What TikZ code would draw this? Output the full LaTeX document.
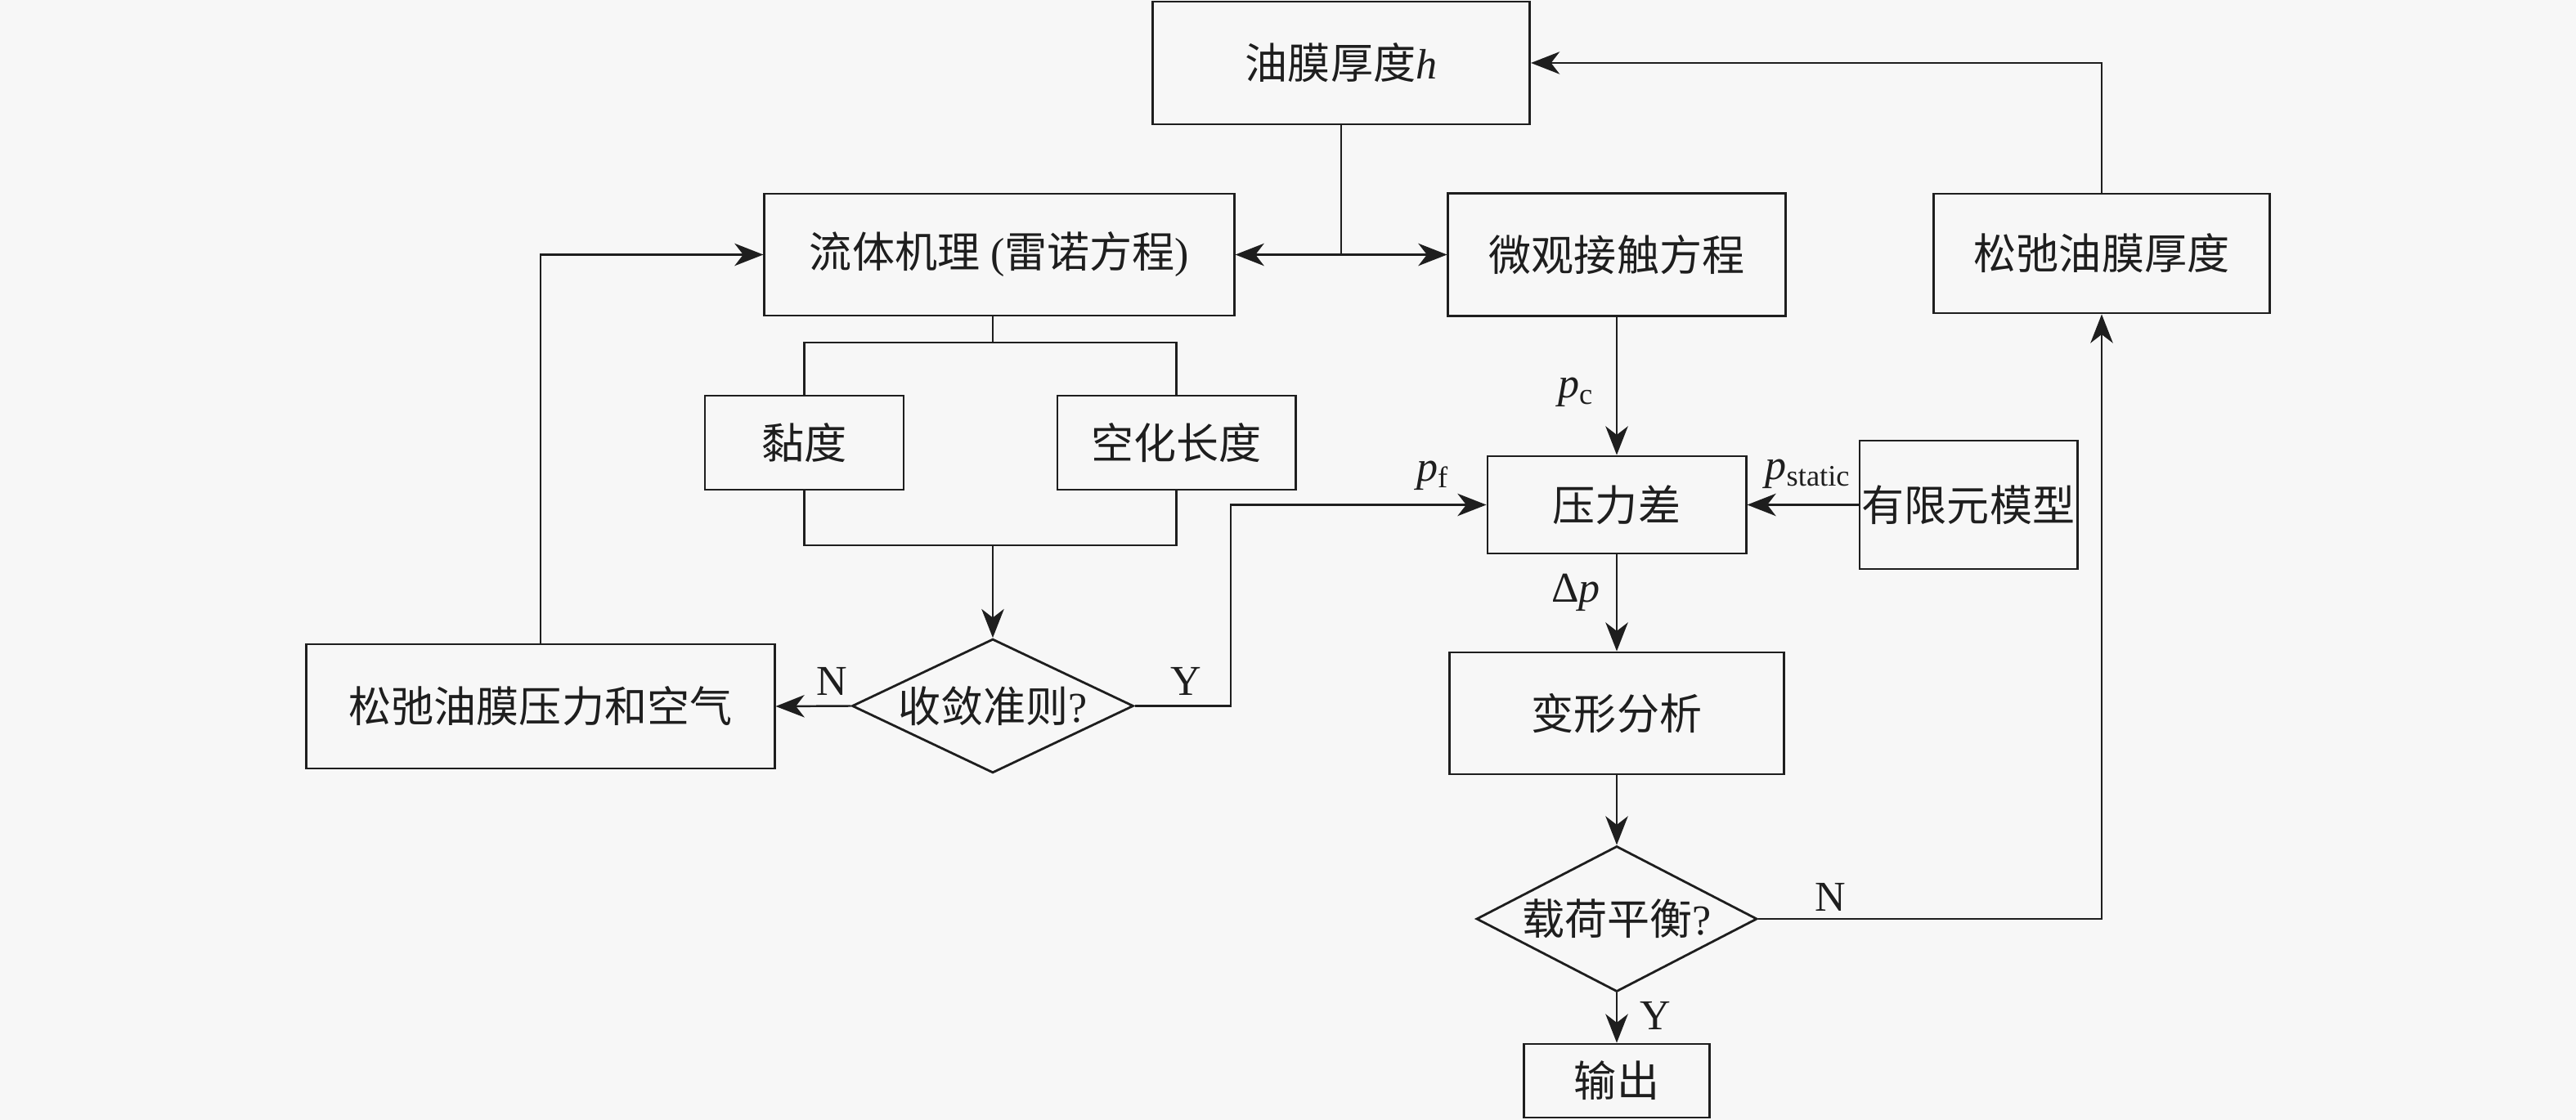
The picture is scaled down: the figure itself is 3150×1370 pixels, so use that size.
\documentclass[tikz,border=0pt]{standalone}
\usepackage{fontspec}
\setmainfont{Liberation Serif}
\newfontfamily\cjk{Noto Sans CJK SC}
\usetikzlibrary{shapes.geometric,arrows.meta}
\definecolor{bgc}{RGB}{247,247,247}
\definecolor{ink}{RGB}{30,30,30}
\begin{document}
\begin{tikzpicture}[x=0.01cm,y=-0.01cm,
  font=\fontsize{14.8pt}{17pt}\selectfont,
  box/.style={draw=ink,line width=0.8pt,inner sep=0pt,rectangle,text=ink},
  dia/.style={draw=ink,line width=0.8pt,inner sep=0pt,diamond,aspect=2,text=ink},
  conn/.style={draw=ink,line width=0.7pt},
  arr/.style={conn,-{Stealth[length=10pt,width=7.8pt,inset=3pt]}},
  lab/.style={inner sep=0pt,text=ink}]
\fill[bgc] (0,0) rectangle (3150,1370);
\useasboundingbox (0,0) rectangle (3150,1370);
% nodes
\node[box,minimum width=4.61cm,minimum height=1.50cm] (h) at (1640,77) {{\cjk 油膜厚度}\textit{h}};
\node[box,minimum width=5.74cm,minimum height=1.49cm] (fluid) at (1222,311.5) {{\cjk 流体机理} ({\cjk 雷诺方程})};
\node[box,minimum width=4.12cm,minimum height=1.50cm] (micro) at (1977,311.5) {\cjk 微观接触方程};
\node[box,minimum width=4.10cm,minimum height=1.46cm] (relaxh) at (2570,310) {\cjk 松弛油膜厚度};
\node[box,minimum width=2.43cm,minimum height=1.15cm] (visc) at (983.5,541.5) {\cjk 黏度};
\node[box,minimum width=2.91cm,minimum height=1.15cm] (cav) at (1438.5,541.5) {\cjk 空化长度};
\node[dia,minimum width=3.44cm,minimum height=1.61cm] (conv) at (1214,863.5) {{\cjk 收敛准则}?};
\node[box,minimum width=5.72cm,minimum height=1.52cm] (relaxp) at (661,864) {\cjk 松弛油膜压力和空气};
\node[box,minimum width=3.16cm,minimum height=1.19cm] (pdiff) at (1977,617.5) {\cjk 压力差};
\node[box,minimum width=2.66cm,minimum height=1.57cm] (fem) at (2407,617.5) {\cjk 有限元模型};
\node[box,minimum width=4.08cm,minimum height=1.49cm] (deform) at (1977,872.5) {\cjk 变形分析};
\node[dia,minimum width=3.43cm,minimum height=1.78cm] (load) at (1977,1124) {{\cjk 载荷平衡}?};
\node[box,minimum width=2.27cm,minimum height=0.90cm] (out) at (1977,1322) {\cjk 输出};
% labels
\node[lab] (lpc) at (1927,480) {\textit{p}\textsubscript{c}};
\node[lab] (lpf) at (1752,582) {\textit{p}\textsubscript{f}};
\node[lab] (lps) at (2211,580) {\textit{p}\textsubscript{static}};
\node[lab] (ldp) at (1927,725) {Δ\textit{p}};
\node[lab] (ln1) at (1017,833) {N};
\node[lab] (ly1) at (1450,833) {Y};
\node[lab] (ln2) at (2238,1097) {N};
\node[lab] (ly2) at (2024,1242) {Y};
% connectors
\coordinate (J) at (h.south |- fluid.east);
\draw[conn] (h.south) -- (J);
\draw[arr] (J) -- (fluid.east);
\draw[arr] (J) -- (micro.west);
\draw[arr] (relaxh.north) |- (h.east);
\coordinate (fb) at (1214,419);
\draw[conn] (fb |- fluid.south) -- (fb);
\draw[conn] (visc.north) |- (fb) -| (cav.north);
\coordinate (mb) at (1214,667);
\draw[conn] (visc.south) |- (mb) -| (cav.south);
\draw[arr] (mb) -- (conv.north);
\draw[arr] (conv.west) -- (relaxp.east);
\draw[arr] (relaxp.north) |- (fluid.west);
\coordinate (yc) at (1505,617.5);
\draw[arr] (conv.east) -| (yc) -- (pdiff.west);
\draw[arr] (micro.south) -- (pdiff.north);
\draw[arr] (fem.west) -- (pdiff.east);
\draw[arr] (pdiff.south) -- (deform.north);
\draw[arr] (deform.south) -- (load.north);
\draw[arr] (load.south) -- (out.north);
\draw[arr] (load.east) -| (relaxh.south);
\end{tikzpicture}
\end{document}
